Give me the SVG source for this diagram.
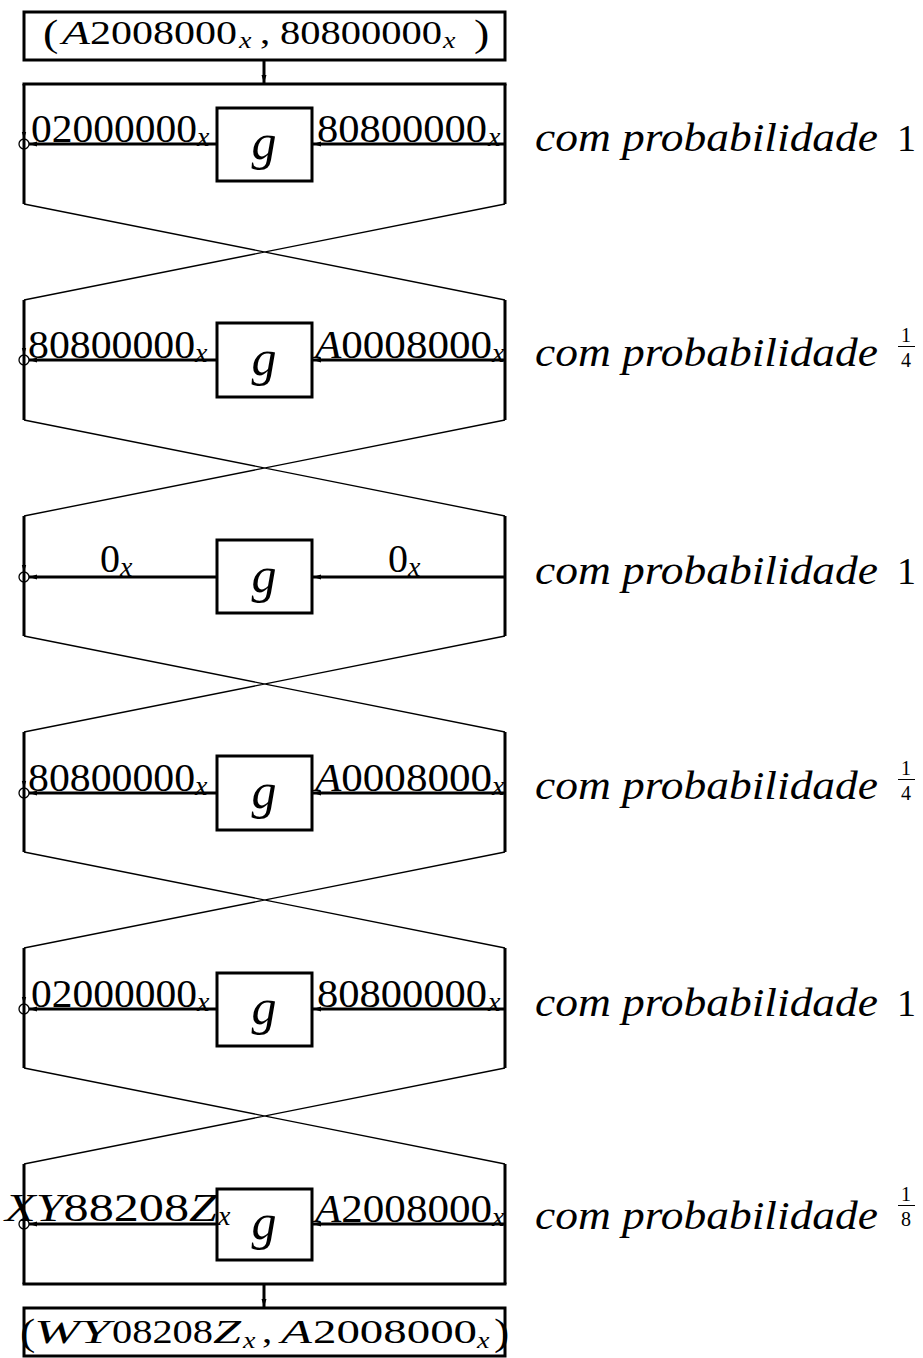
<svg xmlns="http://www.w3.org/2000/svg" width="923" height="1358" viewBox="0 0 923 1358" font-family="'Liberation Serif', 'Times New Roman', serif">
  <style>
    .box { fill: none; stroke: #000; stroke-width: 3; }
    .wire { fill: none; stroke: #000; stroke-width: 3; }
    .cross { fill: none; stroke: #000; stroke-width: 1.4; }
    .thin { fill: none; stroke: #000; stroke-width: 1.2; }
    .xor { fill: none; stroke: #000; stroke-width: 1.3; }
    text { font-family: "Liberation Serif", "Times New Roman", serif; fill: #000; }
    .lbl { font-size: 40px; }
    .it { font-style: italic; }
    .sub { font-size: 28px; font-style: italic; }
    .gf { font-size: 50px; font-style: italic; text-anchor: middle; }
    .prob { font-size: 40px; font-style: italic; }
    .one { font-size: 38px; }
    .frac { font-size: 20px; }
    .io { font-size: 41px; }
    .par { font-size: 46px; }
  </style>
  <defs>
    <marker id="ah" markerWidth="9" markerHeight="6" refX="8" refY="3" orient="auto" markerUnits="userSpaceOnUse">
      <path d="M0,0.5 L8,3 L0,5.5 z" fill="#000"/>
    </marker>
    <marker id="ahs" markerWidth="8" markerHeight="6" refX="7" refY="3" orient="auto" markerUnits="userSpaceOnUse">
      <path d="M0,0.8 L7,3 L0,5.2 z" fill="#000"/>
    </marker>
  </defs>
  <rect width="923" height="1358" fill="#fff"/>

  <!-- wires: frame, swaps, data paths -->
  <g id="connectors">
    <!-- input into first round, output out of last round -->
    <line class="wire" x1="264" y1="60" x2="264" y2="83" marker-end="url(#ah)"/>
    <line class="wire" x1="264" y1="1284" x2="264" y2="1307" marker-end="url(#ah)"/>
    <!-- outer frame borders -->
    <line class="wire" x1="22.5" y1="84" x2="506.5" y2="84"/>
    <line class="wire" x1="22.5" y1="1284" x2="506.5" y2="1284"/>
    <!-- side rails of each round -->
    <path class="wire" d="M24,84 V204 M505,84 V204"/>
    <path class="wire" d="M24,300 V420 M505,300 V420"/>
    <path class="wire" d="M24,516 V636 M505,516 V636"/>
    <path class="wire" d="M24,732 V852 M505,732 V852"/>
    <path class="wire" d="M24,948 V1068 M505,948 V1068"/>
    <path class="wire" d="M24,1164 V1284 M505,1164 V1284"/>
    <!-- half swaps between rounds -->
    <path class="cross" d="M24,204 L505,300 M505,204 L24,300"/>
    <path class="cross" d="M24,420 L505,516 M505,420 L24,516"/>
    <path class="cross" d="M24,636 L505,732 M505,636 L24,732"/>
    <path class="cross" d="M24,852 L505,948 M505,852 L24,948"/>
    <path class="cross" d="M24,1068 L505,1164 M505,1068 L24,1164"/>
    <!-- right half through g, g output into xor -->
    <line class="wire" x1="505" y1="144" x2="313" y2="144" marker-end="url(#ah)"/>
    <line class="wire" x1="217" y1="144" x2="29" y2="144" marker-end="url(#ah)"/>
    <line class="wire" x1="505" y1="360" x2="313" y2="360" marker-end="url(#ah)"/>
    <line class="wire" x1="217" y1="360" x2="29" y2="360" marker-end="url(#ah)"/>
    <line class="wire" x1="505" y1="577" x2="313" y2="577" marker-end="url(#ah)"/>
    <line class="wire" x1="217" y1="577" x2="29" y2="577" marker-end="url(#ah)"/>
    <line class="wire" x1="505" y1="793" x2="313" y2="793" marker-end="url(#ah)"/>
    <line class="wire" x1="217" y1="793" x2="29" y2="793" marker-end="url(#ah)"/>
    <line class="wire" x1="505" y1="1009" x2="313" y2="1009" marker-end="url(#ah)"/>
    <line class="wire" x1="217" y1="1009" x2="29" y2="1009" marker-end="url(#ah)"/>
    <line class="wire" x1="505" y1="1224" x2="313" y2="1224" marker-end="url(#ah)"/>
    <line class="wire" x1="217" y1="1224" x2="29" y2="1224" marker-end="url(#ah)"/>
    <!-- left half into xor -->
    <line class="thin" x1="24" y1="128" x2="24" y2="139" marker-end="url(#ahs)"/>
    <line class="thin" x1="24" y1="344" x2="24" y2="355" marker-end="url(#ahs)"/>
    <line class="thin" x1="24" y1="561" x2="24" y2="572" marker-end="url(#ahs)"/>
    <line class="thin" x1="24" y1="777" x2="24" y2="788" marker-end="url(#ahs)"/>
    <line class="thin" x1="24" y1="993" x2="24" y2="1004" marker-end="url(#ahs)"/>
    <line class="thin" x1="24" y1="1208" x2="24" y2="1219" marker-end="url(#ahs)"/>
  </g>

  <g id="input">
    <rect class="box" x="24" y="12" width="481" height="48"/>
    <text class="io" transform="translate(0,44) scale(1,0.83)">
      <tspan class="par" x="43" y="2">(</tspan><tspan class="it" x="62" y="0" textLength="28" lengthAdjust="spacingAndGlyphs">A</tspan><tspan x="90" y="0" textLength="147" lengthAdjust="spacingAndGlyphs">2008000</tspan><tspan class="sub" x="239" y="5">x</tspan><tspan x="260" y="0">,</tspan><tspan x="280" y="0" textLength="162" lengthAdjust="spacingAndGlyphs">80800000</tspan><tspan class="sub" x="443" y="5">x</tspan><tspan class="par" x="474" y="2">)</tspan>
    </text>
  </g>

  <g id="round1">
    <rect class="box" x="217" y="108" width="95" height="73"/>
    <text class="gf" x="264" y="159">g</text>
    <circle class="xor" cx="24" cy="144" r="5"/>
    <text class="lbl" x="31" y="142" textLength="166" lengthAdjust="spacingAndGlyphs">02000000</text>
    <text class="sub" x="197" y="146">x</text>
    <text class="lbl" x="317" y="142" textLength="170" lengthAdjust="spacingAndGlyphs">80800000</text>
    <text class="sub" x="488" y="146">x</text>
    <text class="prob" x="535" y="151" textLength="343" lengthAdjust="spacingAndGlyphs">com probabilidade</text>
    <text class="one" x="897" y="151">1</text>
  </g>

  <g id="round2">
    <rect class="box" x="217" y="323" width="95" height="74"/>
    <text class="gf" x="264" y="375">g</text>
    <circle class="xor" cx="24" cy="360" r="5"/>
    <text class="lbl" x="28" y="358" textLength="167" lengthAdjust="spacingAndGlyphs">80800000</text>
    <text class="sub" x="195" y="362">x</text>
    <text class="lbl" x="315" y="358" textLength="177" lengthAdjust="spacingAndGlyphs"><tspan class="it">A</tspan>0008000</text>
    <text class="sub" x="492" y="362">x</text>
    <text class="prob" x="535" y="366" textLength="343" lengthAdjust="spacingAndGlyphs">com probabilidade</text>
    <text class="frac" x="901" y="342">1</text>
    <line x1="898" y1="346.5" x2="915" y2="346.5" stroke="#000" stroke-width="1"/>
    <text class="frac" x="901" y="367">4</text>
  </g>

  <g id="round3">
    <rect class="box" x="217" y="540" width="95" height="73"/>
    <text class="gf" x="264" y="592">g</text>
    <circle class="xor" cx="24" cy="577" r="5"/>
    <text class="lbl" x="100" y="572" textLength="20" lengthAdjust="spacingAndGlyphs">0</text>
    <text class="sub" x="120" y="576">x</text>
    <text class="lbl" x="388" y="572" textLength="20" lengthAdjust="spacingAndGlyphs">0</text>
    <text class="sub" x="408" y="576">x</text>
    <text class="prob" x="535" y="584" textLength="343" lengthAdjust="spacingAndGlyphs">com probabilidade</text>
    <text class="one" x="897" y="584">1</text>
  </g>

  <g id="round4">
    <rect class="box" x="217" y="756" width="95" height="74"/>
    <text class="gf" x="264" y="808">g</text>
    <circle class="xor" cx="24" cy="793" r="5"/>
    <text class="lbl" x="28" y="791" textLength="167" lengthAdjust="spacingAndGlyphs">80800000</text>
    <text class="sub" x="195" y="795">x</text>
    <text class="lbl" x="315" y="791" textLength="177" lengthAdjust="spacingAndGlyphs"><tspan class="it">A</tspan>0008000</text>
    <text class="sub" x="492" y="795">x</text>
    <text class="prob" x="535" y="799" textLength="343" lengthAdjust="spacingAndGlyphs">com probabilidade</text>
    <text class="frac" x="901" y="775">1</text>
    <line x1="898" y1="779.5" x2="915" y2="779.5" stroke="#000" stroke-width="1"/>
    <text class="frac" x="901" y="800">4</text>
  </g>

  <g id="round5">
    <rect class="box" x="217" y="973" width="95" height="73"/>
    <text class="gf" x="264" y="1024">g</text>
    <circle class="xor" cx="24" cy="1009" r="5"/>
    <text class="lbl" x="31" y="1007" textLength="166" lengthAdjust="spacingAndGlyphs">02000000</text>
    <text class="sub" x="197" y="1011">x</text>
    <text class="lbl" x="317" y="1007" textLength="170" lengthAdjust="spacingAndGlyphs">80800000</text>
    <text class="sub" x="488" y="1011">x</text>
    <text class="prob" x="535" y="1016" textLength="343" lengthAdjust="spacingAndGlyphs">com probabilidade</text>
    <text class="one" x="897" y="1016">1</text>
  </g>

  <g id="round6">
    <rect class="box" x="217" y="1189" width="95" height="71"/>
    <text class="gf" x="264" y="1239">g</text>
    <circle class="xor" cx="24" cy="1224" r="5"/>
    <text class="lbl" x="5" y="1221" textLength="212" lengthAdjust="spacingAndGlyphs"><tspan class="it">XY</tspan>88208<tspan class="it">Z</tspan></text>
    <text class="sub" x="218" y="1225">x</text>
    <text class="lbl" x="315" y="1222" textLength="177" lengthAdjust="spacingAndGlyphs"><tspan class="it">A</tspan>2008000</text>
    <text class="sub" x="492" y="1226">x</text>
    <text class="prob" x="535" y="1229" textLength="343" lengthAdjust="spacingAndGlyphs">com probabilidade</text>
    <text class="frac" x="901" y="1201">1</text>
    <line x1="898" y1="1205.5" x2="915" y2="1205.5" stroke="#000" stroke-width="1"/>
    <text class="frac" x="901" y="1226">8</text>
  </g>

  <g id="output">
    <rect class="box" x="24" y="1308" width="481" height="48"/>
    <text class="io" transform="translate(0,1343) scale(1,0.83)">
      <tspan class="par" x="20" y="2">(</tspan><tspan class="it" x="34" y="0" textLength="46" lengthAdjust="spacingAndGlyphs">W</tspan><tspan class="it" x="80" y="0" textLength="30" lengthAdjust="spacingAndGlyphs">Y</tspan><tspan x="112" y="0" textLength="101" lengthAdjust="spacingAndGlyphs">08208</tspan><tspan class="it" x="213" y="0" textLength="28" lengthAdjust="spacingAndGlyphs">Z</tspan><tspan class="sub" x="243" y="6">x</tspan><tspan x="262" y="0">,</tspan><tspan class="it" x="281" y="0" textLength="31" lengthAdjust="spacingAndGlyphs">A</tspan><tspan x="313" y="0" textLength="164" lengthAdjust="spacingAndGlyphs">2008000</tspan><tspan class="sub" x="477" y="6">x</tspan><tspan class="par" x="494" y="2">)</tspan>
    </text>
  </g>
</svg>
